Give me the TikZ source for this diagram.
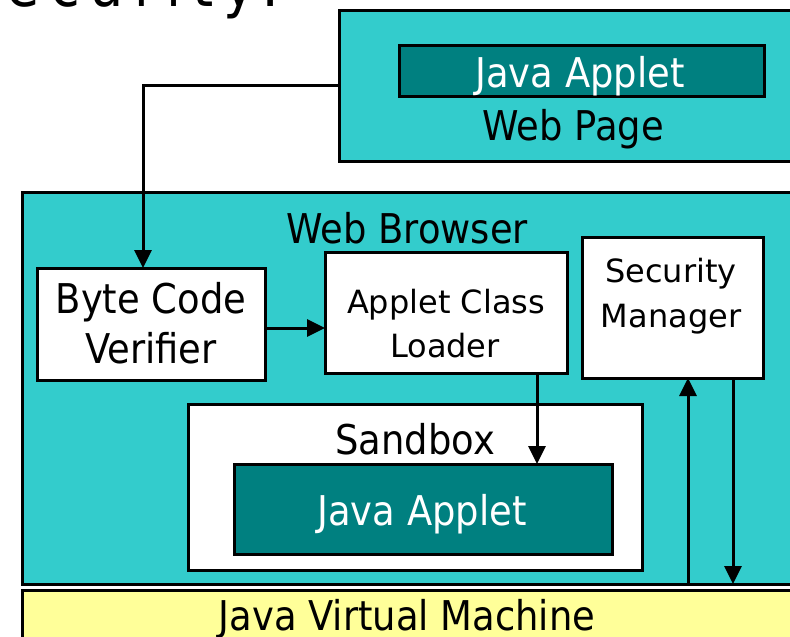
\documentclass[tikz,border=0pt]{standalone}
\usepackage{fontspec}
\setmainfont{DejaVu Sans}
\newfontfamily\bigf[FakeStretch=0.9]{DejaVu Sans}
\newfontfamily\titlef[FakeStretch=0.9,LetterSpace=17]{DejaVu Sans}
\usetikzlibrary{arrows.meta}
\definecolor{cyanbg}{RGB}{51,204,204}
\definecolor{tealbox}{RGB}{0,128,128}
\definecolor{jvmyellow}{RGB}{255,255,153}
\tikzset{
  box/.style={draw=black, line width=3pt, inner sep=0pt, outer sep=0pt},
  bigtxt/.style={font=\bigf\fontsize{41}{50}\selectfont, inner sep=0pt, anchor=base},
  smalltxt/.style={font=\fontsize{32}{44}\selectfont, inner sep=0pt, anchor=base},
  arr/.style={line width=3pt, -{Triangle[length=18pt,width=17pt]}}
}
\begin{document}
\begin{tikzpicture}[x=1pt,y=-1pt]
\useasboundingbox (0,0) rectangle (790,637);
\clip (0,0) rectangle (790,637);
\fill[white] (0,0) rectangle (790,637);
% title (cut off)
\node[font=\titlef\fontsize{60}{70}\selectfont, inner sep=0pt, anchor=base east] (title) at (280,6) {Security:};
% outer boxes
\node[box, fill=cyanbg, minimum width=461pt, minimum height=151pt] (webpage) at (569.5,85.5) {};
\node[box, fill=tealbox, minimum width=365pt, minimum height=51pt] (applet1) at (581.5,70.5) {};
\node[box, fill=cyanbg, minimum width=778pt, minimum height=392pt] (browser) at (411,388) {};
\node[box, fill=jvmyellow, minimum width=778pt, minimum height=60pt] (jvm) at (411,620) {};
% inner boxes
\node[box, fill=white, minimum width=228pt, minimum height=112pt] (bcv) at (151,324) {};
\node[box, fill=white, minimum width=242pt, minimum height=121pt] (acl) at (446,312.5) {};
\node[box, fill=white, minimum width=181pt, minimum height=141pt] (sm) at (672.5,307.5) {};
\node[box, fill=white, minimum width=454pt, minimum height=166pt] (sandbox) at (415,487) {};
\node[box, fill=tealbox, minimum width=378pt, minimum height=90pt] (applet2) at (423,509) {};
% texts
\node[bigtxt, text=white] (tja1) at (580,87) {Java Applet};
\node[bigtxt] (twp) at (573,140) {Web Page};
\node[bigtxt] (twb) at (407,243) {Web Browser};
\node[bigtxt] (tbc1) at (151,313) {Byte Code};
\node[bigtxt] (tbc2) at (151,363) {Verifier};
\node[smalltxt] (tac1) at (446,313) {Applet Class};
\node[smalltxt] (tac2) at (445,357) {Loader};
\node[smalltxt] (tsm1) at (671,282) {Security};
\node[smalltxt] (tsm2) at (671,327) {Manager};
\node[bigtxt] (tsb) at (415,454) {Sandbox};
\node[bigtxt, text=white] (tja2) at (422,525) {Java Applet};
\node[bigtxt] (tjvm) at (407,630) {Java Virtual Machine};
% connectors
\draw[arr] (webpage.west |- 0,85) -| (bcv.north -| 143,0);
\draw[arr] (bcv.east |- 0,328) -- (acl.west |- 0,328);
\draw[arr] (acl.south -| 537,0) -- (applet2.north -| 537,0);
\draw[arr] (browser.south -| 688,0) -- (sm.south -| 688,0);
\draw[arr] (sm.south -| 733,0) -- (browser.south -| 733,0);
\end{tikzpicture}
\end{document}
